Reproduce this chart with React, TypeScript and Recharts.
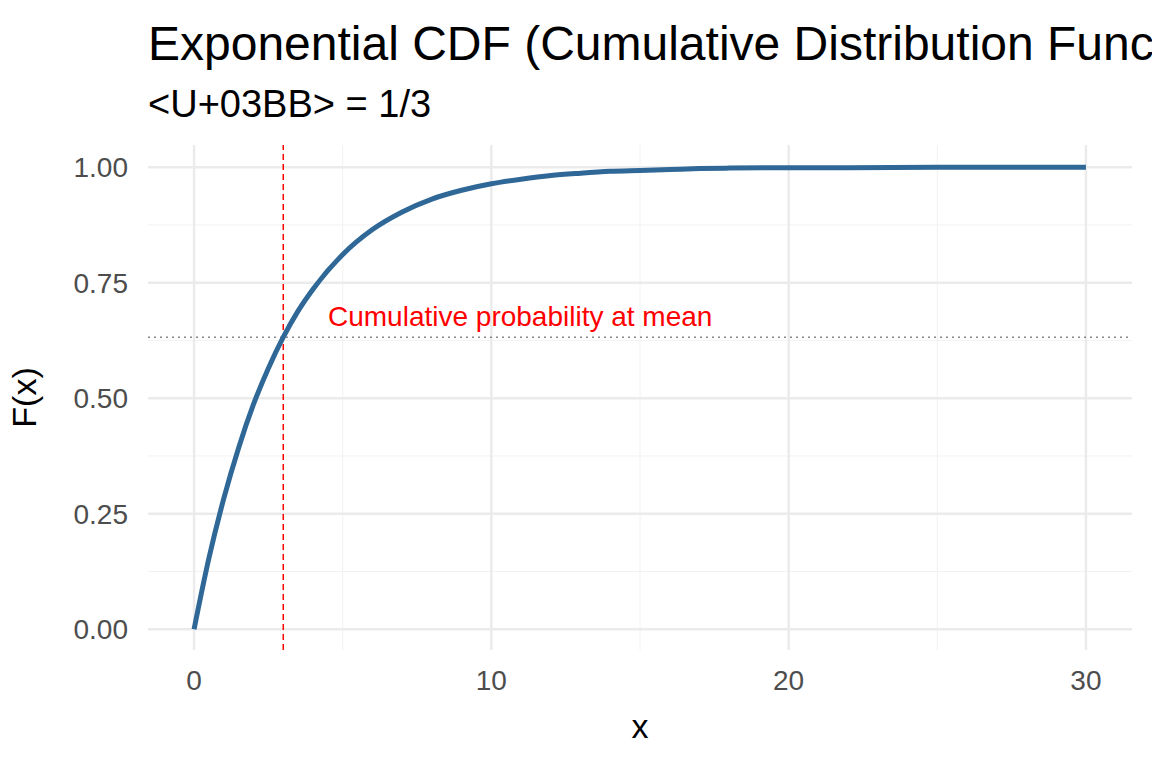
import React from 'react'
import { LineChart, Line, XAxis, YAxis, ReferenceLine, ReferenceDot, Label } from 'recharts'

// values
const xs = [0, 0.5, 1, 1.5, 2, 2.5, 3, 3.5, 4, 5, 6, 7, 8, 9, 10, 11, 12, 13, 14, 15, 16, 17, 18, 20, 22, 25, 30]
const fx = [0, 0.154, 0.283, 0.393, 0.487, 0.565, 0.632, 0.689, 0.736, 0.811, 0.865, 0.903, 0.931, 0.950, 0.964, 0.974, 0.982, 0.987, 0.991, 0.993, 0.995, 0.997, 0.998, 0.999, 0.999, 1.0, 1.0]
const xTicks = [0, 10, 20, 30]
const yTicks = [0, 0.25, 0.5, 0.75, 1]
const xMinor = [5, 15, 25]
const yMinor = [0.125, 0.375, 0.625, 0.875]
const meanX = 3
const meanF = 0.632

const data = xs.map((x, i) => ({ x, y: fx[i] }))
const font = '"Liberation Sans", Arial, sans-serif'

export default function App() {
  return (
    <div style={{ position: 'absolute', left: 0, top: 0, width: 1152, height: 768, overflow: 'hidden', background: '#fff', fontFamily: font }}>
      <div style={{ position: 'absolute', left: 148, top: 16, fontSize: 48, lineHeight: '56px', whiteSpace: 'nowrap', color: '#000' }}>
        Exponential CDF (Cumulative Distribution Function)
      </div>
      <div style={{ position: 'absolute', left: 148, top: 82, fontSize: 38, lineHeight: '44px', whiteSpace: 'nowrap', color: '#000' }}>
        {'<U+03BB> = 1/3'}
      </div>
      <LineChart width={1152} height={768} data={data} margin={{ top: 145, right: 20, bottom: 0, left: 0 }}>
        {xMinor.map(v => <ReferenceLine key={'xm' + v} x={v} stroke="#f2f2f2" strokeWidth={1} />)}
        {yMinor.map(v => <ReferenceLine key={'ym' + v} y={v} stroke="#f2f2f2" strokeWidth={1} />)}
        {xTicks.map(v => <ReferenceLine key={'x' + v} x={v} stroke="#ebebeb" strokeWidth={2.5} />)}
        {yTicks.map(v => <ReferenceLine key={'y' + v} y={v} stroke="#ebebeb" strokeWidth={2.5} />)}
        <XAxis type="number" dataKey="x" domain={[-1.55, 31.55]} ticks={xTicks} axisLine={false} tickLine={false}
          tick={{ fontSize: 28, fill: '#4d4d4d', fontFamily: font }} tickMargin={14} height={118}>
          <Label value="x" position="insideTop" offset={64} style={{ fontSize: 34, fill: '#000', fontFamily: font }} />
        </XAxis>
        <YAxis type="number" domain={[-0.045, 1.048]} ticks={yTicks} axisLine={false} tickLine={false} width={148}
          tickFormatter={(v: number) => v.toFixed(2)} tick={{ fontSize: 28, fill: '#4d4d4d', fontFamily: font }} tickMargin={14}>
          <Label value="F(x)" angle={-90} position="insideLeft" offset={24} style={{ fontSize: 34, fill: '#000', fontFamily: font, textAnchor: 'middle' }} />
        </YAxis>
        <ReferenceLine y={meanF} stroke="#888" strokeDasharray="2 4" strokeWidth={1.5} />
        <ReferenceLine x={meanX} stroke="#ff0000" strokeDasharray="6 4" strokeWidth={1.5} />
        <Line type="monotone" dataKey="y" stroke="#2f6897" strokeWidth={5} dot={false} isAnimationActive={false} />
        <ReferenceDot x={10.97} y={0.677} r={0} fill="none" stroke="none">
          <Label value="Cumulative probability at mean" position="center" style={{ fontSize: 28, fill: '#ff0000', fontFamily: font }} />
        </ReferenceDot>
      </LineChart>
    </div>
  )
}
